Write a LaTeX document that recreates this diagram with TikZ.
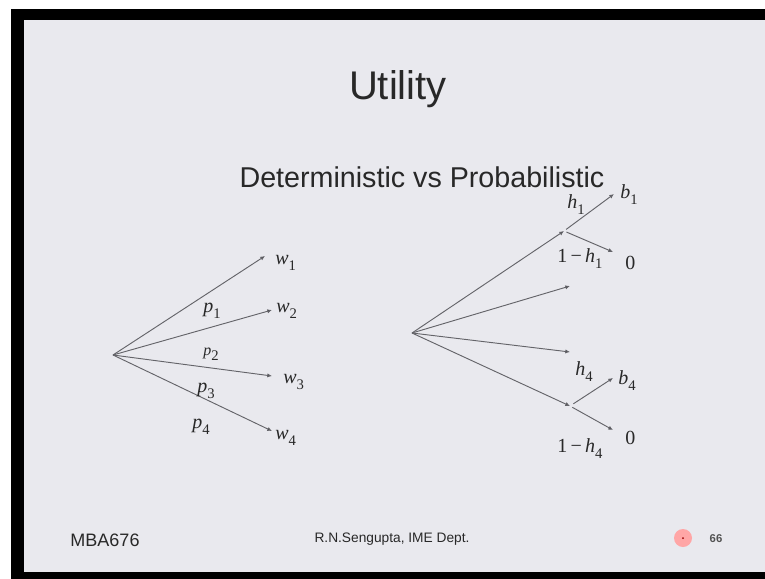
\documentclass[tikz,border=0pt]{standalone}
\usepackage{fontspec}
\setmainfont{Liberation Sans}
\newfontfamily\tms{Liberation Serif}
\usetikzlibrary{arrows.meta}
\definecolor{slide}{RGB}{233,233,238}
\definecolor{ink}{RGB}{40,40,40}
\definecolor{twig}{RGB}{100,100,105}
\tikzset{
  branch/.style={draw=twig, line width=0.7pt, -{Latex[length=3.5pt,width=3.2pt,fill=black]}},
  var/.style={font=\tms\itshape\fontsize{15}{16}\selectfont, text=ink, inner sep=0pt, anchor=west},
  small var/.style={var, font=\tms\itshape\fontsize{12}{13}\selectfont}
}
\newcommand\sub[2]{#1\raisebox{-0.3em}{\upshape\fontsize{11}{11}\selectfont #2}}
\begin{document}
\begin{tikzpicture}[x=0.75pt,y=-0.75pt]
\useasboundingbox (0,0) rectangle (765,579);
\fill[white] (0,0) rectangle (765,579);
\fill[black] (11,9) rectangle (765,579);
\fill[slide] (24,20) rectangle (765,572);
\node[font=\fontsize{30}{32}\selectfont, text=ink] (title) at (398,89) {Utility};
\node[font=\fontsize{21.5}{23}\selectfont, text=ink] (subtitle) at (422,177) {Deterministic vs Probabilistic};
\coordinate (L) at (113,355);
\coordinate (w1) at (265,256);
\coordinate (w2) at (272,310);
\coordinate (w3) at (272,376);
\coordinate (w4) at (272,431);
\foreach \i in {1,...,4}
  \draw[branch] (L) -- (w\i);
\node[var] (lw1) at (275,263) {\sub{w}{1}};
\node[var] (lw2) at (276,311) {\sub{w}{2}};
\node[var] (lw3) at (283,382) {\sub{w}{3}};
\node[var] (lw4) at (275,438) {\sub{w}{4}};
\node[var] (p1) at (203,311) {\sub{p}{1}};
\node[small var] (p2) at (203,354) {\sub{p}{2}};
\node[var] (p3) at (197,391) {\sub{p}{3}};
\node[var] (p4) at (192,427) {\sub{p}{4}};
\coordinate (R) at (412,333);
\coordinate (u1) at (564,231);
\coordinate (u2) at (570,286);
\coordinate (u3) at (570,352);
\coordinate (u4) at (570,406);
\coordinate (b1) at (614,194);
\coordinate (z1) at (613,252);
\coordinate (b4) at (613,378);
\coordinate (z4) at (613,430);
\foreach \i in {1,...,4}
  \draw[branch] (R) -- (u\i);
\draw[branch,shorten <=2pt] (u1) -- (b1);
\draw[branch,shorten <=2pt] (u1) -- (z1);
\draw[branch,shorten <=3pt] (u4) -- (b4);
\draw[branch,shorten <=2pt] (u4) -- (z4);
\node[var] (lb1) at (620,195) {\sub{b}{1}};
\node[var] (lh1) at (567,205) {\sub{h}{1}};
\node[var] (lq1) at (557,259) {{\upshape 1\,−\,}\sub{h}{1}};
\node[var,font=\tms\fontsize{15}{16}\selectfont] (lz1) at (625,263) {0};
\node[var] (lh4) at (575,372) {\sub{h}{4}};
\node[var] (lb4) at (618,381) {\sub{b}{4}};
\node[var] (lq4) at (557,449) {{\upshape 1\,−\,}\sub{h}{4}};
\node[var,font=\tms\fontsize{15}{16}\selectfont] (lz4) at (625,438) {0};
\node[font=\fontsize{13.5}{15}\selectfont, text=ink] (course) at (105,540) {MBA676};
\node[font=\fontsize{10.3}{11}\selectfont, text=ink] (author) at (392,539) {R.N.Sengupta, IME Dept.};
\fill[red!35] (683,538) circle[radius=9];
\fill[red!60!black] (683,538) circle[radius=1];
\node[font=\bfseries\fontsize{8.5}{10}\selectfont, text=ink!80] (page) at (716,539) {66};
\end{tikzpicture}
\end{document}
